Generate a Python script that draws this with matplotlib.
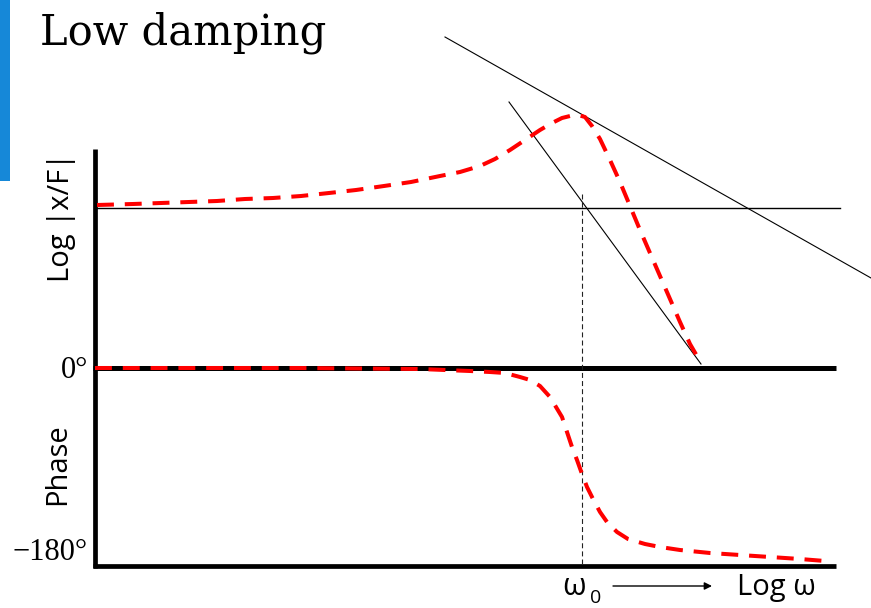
import matplotlib.pyplot as plt
from matplotlib.patches import Rectangle

# canvas units: x grows with log(omega), y grows downward (screen-like)
mag_x = [97, 133, 161, 189, 217, 245, 273, 301, 329, 356, 384, 411, 440, 460,
         480, 495, 510, 525, 540, 552, 562, 570, 578, 585, 592, 600, 610, 620,
         630, 640, 650, 660, 670, 680, 690, 701]
mag_y = [205, 204, 203, 202, 201, 199, 198, 196, 193, 190, 186, 182, 176, 172,
         166, 159, 150, 140, 130, 123, 118, 116, 115, 117, 126, 139, 160, 182,
         206, 230, 253, 276, 299, 322, 344, 363]

phase_x = [95, 300, 420, 470, 490, 505, 520, 530, 540, 550, 556, 562, 567, 572,
           577, 582, 587, 593, 600, 607, 617, 628, 645, 660, 680, 710, 740, 770,
           800, 825]
phase_y = [368, 368, 369, 371, 372, 373, 377, 380, 386, 397, 407, 417, 432, 447,
           460, 474, 487, 499, 512, 522, 532, 539, 544, 547, 550, 553, 555, 557,
           559, 561]

# asymptotes and reference lines
low_freq_level = 208
peak_asym_x = [445, 871]
peak_asym_y = [37, 278]
steep_asym_x = [509, 701]
steep_asym_y = [102, 364]
w0 = 582

# frame
x_left, x_right = 94.5, 836
y_top, y_zero, y_bottom = 149, 367.5, 565.5

fig = plt.figure(figsize=(8.71, 6.08), dpi=100)
ax = fig.add_axes([0, 0, 1, 1])
ax.set_xlim(0, 871)
ax.set_ylim(608, 0)
ax.axis('off')

ax.add_patch(Rectangle((0, 0), 10, 181, color='#1688d8', lw=0))
ax.text(40, 44, 'Low damping', family='DejaVu Serif', fontsize=30, va='baseline', ha='left')

ax.plot([x_left, x_left], [y_top, y_bottom + 2], color='black', lw=3.4, solid_capstyle='butt')
ax.plot([x_left - 1.5, x_right], [y_zero, y_zero], color='black', lw=3.6, solid_capstyle='butt')
ax.plot([x_left - 1.5, x_right], [y_bottom, y_bottom], color='black', lw=3.4, solid_capstyle='butt')

ax.plot([x_left + 2, 840], [low_freq_level, low_freq_level], color='black', lw=1.0)
ax.plot(peak_asym_x, peak_asym_y, color='black', lw=0.8)
ax.plot(steep_asym_x, steep_asym_y, color='black', lw=0.8)
ax.plot([w0, w0], [194, y_bottom], color='#222222', lw=0.8, dashes=(4.5, 2.8))

ax.plot(mag_x, mag_y, color='#ff0000', lw=2.9, dashes=(4.2, 2.7))
ax.plot(phase_x, phase_y, color='#ff0000', lw=2.9, dashes=(4.2, 2.7))

sans = ['Open Sans', 'DejaVu Sans']
ax.text(61, 217, 'Log |x/F|', family=sans, fontsize=21, rotation=90, ha='center', va='center')
ax.text(58, 464, 'Phase', family=sans, fontsize=21, rotation=90, ha='center', va='center')
ax.text(88, 378, '0°', family='Liberation Serif', fontsize=22, ha='right', va='baseline')
ax.text(88, 560, '\u2212180°', family='Liberation Serif', fontsize=22, ha='right', va='baseline')

ax.text(562, 595, 'ω', family=sans, fontsize=22, ha='left', va='baseline')
ax.text(590, 603, '0', family=sans, fontsize=14, ha='left', va='baseline')
ax.annotate('', xy=(712, 586), xytext=(613, 586),
            arrowprops=dict(arrowstyle='-|>', color='black', lw=1.0, mutation_scale=11,
                            shrinkA=0, shrinkB=0))
ax.text(737, 595, 'Log ω', family=sans, fontsize=21, ha='left', va='baseline')

plt.savefig('out.png', dpi=100)
